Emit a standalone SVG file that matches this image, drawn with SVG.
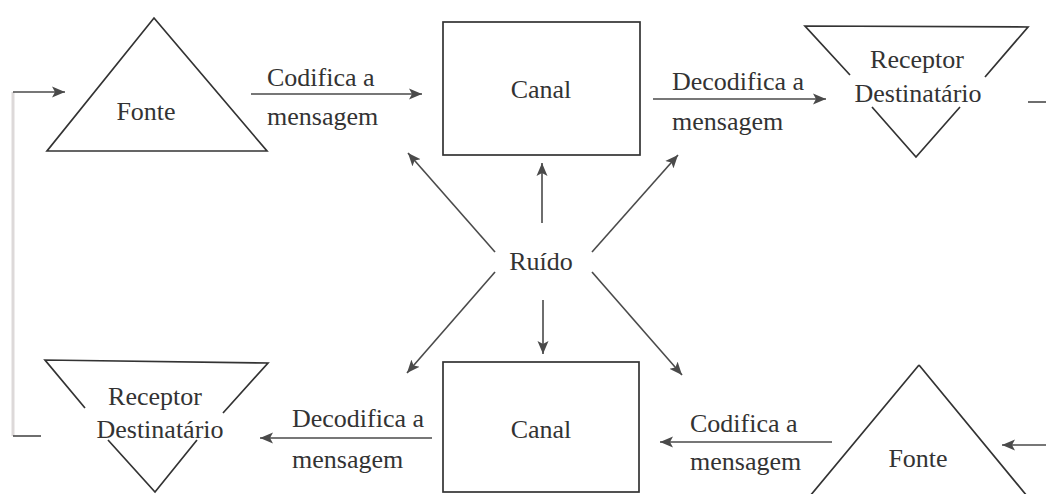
<svg xmlns="http://www.w3.org/2000/svg" width="1046" height="494" viewBox="0 0 1046 494">
<style>
text{font-family:"Liberation Serif","DejaVu Serif",serif;font-size:26px;fill:#333}
.shape{fill:none;stroke:#333;stroke-width:1.7;stroke-linejoin:miter}
.arr{fill:none;stroke:#4a4a4a;stroke-width:1.6}
.fb{fill:none;stroke:#ddd9d9;stroke-width:3}
.mid{text-anchor:middle}
</style>
<defs>
<marker id="ah" markerUnits="userSpaceOnUse" markerWidth="16" markerHeight="12" refX="13" refY="6" orient="auto">
<path d="M0,0.5 L13,6 L0,11.5 L3,6 Z" fill="#4a4a4a"/>
</marker>
</defs>
<rect width="1046" height="494" fill="#fff"/>

<g id="connectors">
<path class="fb" d="M13,92 L13,436"/>
<path class="arr" d="M13,92 L65,92" marker-end="url(#ah)"/>
<path class="arr" d="M13,436 L41,436"/>
<path class="arr" d="M251,94 L422,94" marker-end="url(#ah)"/>
<path class="arr" d="M653,99 L826,99" marker-end="url(#ah)"/>
<path class="arr" d="M1028,102 L1046,102"/>
<path class="arr" d="M542,223 L542,163" marker-end="url(#ah)"/>
<path class="arr" d="M495,252 L408,153" marker-end="url(#ah)"/>
<path class="arr" d="M592,252 L678,155" marker-end="url(#ah)"/>
<path class="arr" d="M543,300 L543,354" marker-end="url(#ah)"/>
<path class="arr" d="M495,272 L407,373" marker-end="url(#ah)"/>
<path class="arr" d="M592,272 L682,375" marker-end="url(#ah)"/>
<path class="arr" d="M432,438 L260,438" marker-end="url(#ah)"/>
<path class="arr" d="M832,442 L660,442" marker-end="url(#ah)"/>
<path class="arr" d="M1046,445 L1002,445" marker-end="url(#ah)"/>
</g>

<g id="label-codifica-top">
<text x="267" y="86">Codifica a</text>
<text x="267" y="125">mensagem</text>
</g>
<g id="label-decodifica-top">
<text x="672" y="90">Decodifica a</text>
<text x="672" y="130">mensagem</text>
</g>
<g id="label-decodifica-bottom">
<text x="292" y="427">Decodifica a</text>
<text x="292" y="468">mensagem</text>
</g>
<g id="label-codifica-bottom">
<text x="690" y="432">Codifica a</text>
<text x="690" y="470">mensagem</text>
</g>

<g id="fonte-top">
<path class="shape" d="M154,18 L267,151 L47,151 Z"/>
<text x="146" y="120" class="mid">Fonte</text>
</g>

<g id="canal-top">
<rect class="shape" x="443" y="22" width="197" height="133"/>
<text x="541" y="98" class="mid">Canal</text>
</g>

<g id="receptor-top">
<path class="shape" d="M850,75 L805,26 L1028,27 L985,77 M960,107 L916,157 L872,107"/>
<text x="917" y="68" class="mid">Receptor</text>
<text x="918" y="102" class="mid">Destinatário</text>
</g>

<g id="ruido">
<text x="541" y="270" class="mid">Ruído</text>
</g>

<g id="receptor-bottom">
<path class="shape" d="M85,408 L45,360 L268,363 L223,413 M197,440 L155,492 L108,440"/>
<text x="155" y="405" class="mid">Receptor</text>
<text x="160" y="438" class="mid">Destinatário</text>
</g>

<g id="canal-bottom">
<rect class="shape" x="443" y="362" width="196" height="130"/>
<text x="541" y="438" class="mid">Canal</text>
</g>

<g id="fonte-bottom">
<path class="shape" d="M919,365 L1027,496 M919,365 L810,496"/>
<text x="918" y="467" class="mid">Fonte</text>
</g>
</svg>
